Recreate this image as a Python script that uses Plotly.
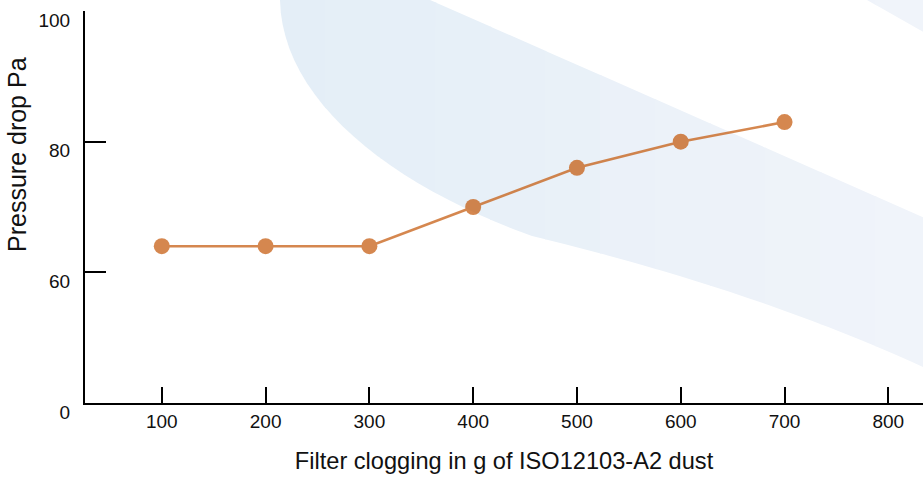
import plotly.graph_objects as go

# Filter clogging (g of ISO12103-A2 dust) vs pressure drop (Pa)
dust_g = [100, 200, 300, 400, 500, 600, 700]
pressure_pa = [64, 64, 64, 70, 76, 80, 83]

# broken y axis: the bottom tick reads "0"
y_tickvals = [40, 60, 80, 100]
y_ticktext = ["0", "60", "80", "100"]
x_tickvals = [100, 200, 300, 400, 500, 600, 700, 800]

W, H = 923, 478
L, R, T, B = 85, 0, 11, 75
FONT = "Liberation Sans, Arial, sans-serif"


def paper(x, y):
    # pixel position on the page -> paper coords of the plot area
    return (x - L) / (W - L - R), (H - B - y) / (H - T - B)


def bezier(p0, p1, p2, p3, n=24):
    pts = []
    for i in range(n + 1):
        t = i / n
        a, b, c, d = (1 - t) ** 3, 3 * t * (1 - t) ** 2, 3 * t * t * (1 - t), t ** 3
        pts.append((a * p0[0] + b * p1[0] + c * p2[0] + d * p3[0],
                    a * p0[1] + b * p1[1] + c * p2[1] + d * p3[1]))
    return pts


def clip_x(poly, x0, x1):
    # keep the part of a polygon between two vertical lines
    def cut(pts, keep, xc):
        out = []
        for i, cur in enumerate(pts):
            prev = pts[i - 1]
            if keep(cur):
                if not keep(prev):
                    t = (xc - prev[0]) / (cur[0] - prev[0])
                    out.append((xc, prev[1] + t * (cur[1] - prev[1])))
                out.append(cur)
            elif keep(prev):
                t = (xc - prev[0]) / (cur[0] - prev[0])
                out.append((xc, prev[1] + t * (cur[1] - prev[1])))
        return out
    pts = cut(poly, lambda p: p[0] >= x0, x0)
    return cut(pts, lambda p: p[0] <= x1, x1) if pts else pts


def to_path(pts):
    return "M" + " L".join("%.4f,%.4f" % paper(*p) for p in pts) + " Z"


# decorative light blue bands in the background (pixel outline)
band_main = ([(280, -6)] + bezier((280, 0), (282, 100), (390, 185), (532, 236))
             + bezier((532, 236), (660, 267), (800, 310), (925, 368))[1:]
             + [(925, 218), (430, 0), (416, -6)])
band_corner = [(858, -6), (867, 0), (925, 33), (925, -6)]

# left to right the band fades from a light blue to an even lighter one
c0, c1 = (228, 238, 247), (240, 244, 250)
edges = [270 + i * 55 for i in range(13)]

fig = go.Figure()
for i in range(len(edges) - 1):
    f = i / (len(edges) - 2)
    col = "rgb(%d,%d,%d)" % tuple(round(a + (b - a) * f) for a, b in zip(c0, c1))
    for poly in (band_main, band_corner):
        piece = clip_x(poly, edges[i], edges[i + 1] + 1.5)
        if len(piece) > 2:
            fig.add_shape(type="path", path=to_path(piece), xref="paper", yref="paper",
                          fillcolor=col, line=dict(width=0), layer="below")

# semi-transparent dark orange: reads as orange on white, browner over the band
fig.add_trace(go.Scatter(
    x=dust_g, y=pressure_pa, mode="lines+markers",
    line=dict(color="rgb(196,85,5)", width=2.6),
    marker=dict(color="rgb(196,85,5)", size=16),
    opacity=0.7, showlegend=False,
))

fig.add_annotation(
    text="Pressure drop Pa", textangle=-90, showarrow=False,
    xref="paper", yref="paper",
    x=paper(17, 155)[0], y=paper(17, 155)[1],
    xanchor="center", yanchor="middle",
    font=dict(family=FONT, size=25, color="#111111"),
)

fig.update_xaxes(
    range=[26, 833.4], tickvals=x_tickvals, automargin=False,
    showline=True, linecolor="black", linewidth=2,
    ticks="inside", ticklen=16, tickwidth=1.6, tickcolor="black",
    showgrid=False, zeroline=False,
    tickfont=dict(family=FONT, size=19, color="#111111"),
    title=dict(text="Filter clogging in g of ISO12103-A2 dust",
               font=dict(family=FONT, size=23.6, color="#111111"), standoff=22),
)
fig.update_yaxes(
    range=[40, 100], tickvals=y_tickvals, ticktext=y_ticktext, automargin=False,
    showline=True, linecolor="black", linewidth=2,
    ticks="inside", ticklen=21, tickwidth=1.6, tickcolor="black",
    showgrid=False, zeroline=False, ticklabelshift=9, ticklabelstandoff=9,
    tickfont=dict(family=FONT, size=19, color="#111111"),
)
fig.update_layout(
    width=W, height=H,
    margin=dict(l=L, r=R, t=T, b=B, pad=0),
    plot_bgcolor="rgba(0,0,0,0)", paper_bgcolor="white",
)

# drop the page's default body margin so the figure sits at the top-left corner
fig.write_html("out.html", config={"displayModeBar": False},
               post_script="document.body.style.margin = '0';")
